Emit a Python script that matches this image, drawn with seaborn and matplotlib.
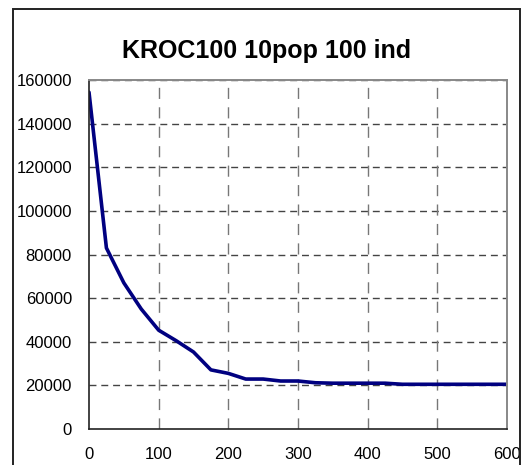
import numpy as np
import pandas as pd
import seaborn as sns
import matplotlib.pyplot as plt
from matplotlib.patches import Rectangle

# values
generation = [0, 25, 50, 75, 100, 125, 150, 175, 200, 225, 250, 275, 300,
              325, 350, 375, 400, 425, 450, 475, 500, 525, 550, 575, 600]
best_cost = [154400, 83000, 67000, 55000, 45300, 40500, 35300, 27100, 25500,
             22900, 22900, 22000, 22000, 21200, 21000, 21000, 21000, 21000,
             20500, 20500, 20500, 20500, 20500, 20500, 20500]
x_ticks = [0, 100, 200, 300, 400, 500, 600]
y_ticks = [0, 20000, 40000, 60000, 80000, 100000, 120000, 140000, 160000]
title = "KROC100 10pop 100 ind"

df = pd.DataFrame({"gen": generation, "cost": best_cost})

sns.set_style("white")
plt.rcParams["font.family"] = ["Liberation Sans", "DejaVu Sans"]

W, H = 523, 465
fig = plt.figure(figsize=(W / 100, H / 100), dpi=100)
ax = fig.add_axes([89 / W, 1 - 429 / H, (507 - 89) / W, (429 - 80) / H])

sns.lineplot(data=df, x="gen", y="cost", ax=ax, color="#000080", linewidth=2.6)

ax.set_xlim(0, 600)
ax.set_ylim(0, 160000)
ax.set_xticks(x_ticks)
ax.set_yticks(y_ticks)
ax.set_xlabel("")
ax.set_ylabel("")

# dashed grid: horizontal darker, vertical lighter
for y in y_ticks[1:]:
    ax.axhline(y, color="#444444", lw=1.0, ls=(0, (5, 3.5)), zorder=0)
for x in x_ticks[1:-1]:
    ax.axvline(x, color="#777777", lw=1.0, ls=(0, (8, 6)), zorder=0)

for side in ["left", "bottom"]:
    ax.spines[side].set_color("#222222")
    ax.spines[side].set_linewidth(1.2)
for side in ["top", "right"]:
    ax.spines[side].set_color("#888888")
    ax.spines[side].set_linewidth(1.4)

ax.tick_params(axis="y", direction="out", length=5.8, width=1,
               colors="#222222", labelsize=12, labelcolor="black", pad=6.5)
ax.tick_params(axis="x", direction="out", length=3, width=1,
               colors="#222222", labelsize=12, labelcolor="black", pad=10)

# chart area frame
fig.patches.append(Rectangle((13 / W, -0.05), (520 - 13) / W, 1.05 - 9 / H,
                             transform=fig.transFigure, fill=False,
                             edgecolor="#222222", linewidth=1.4))

fig.text(267 / W, 1 - 51 / H, title, ha="center", va="center",
         fontsize=18, fontweight="bold", color="black")

fig.savefig("out.png", dpi=100)
